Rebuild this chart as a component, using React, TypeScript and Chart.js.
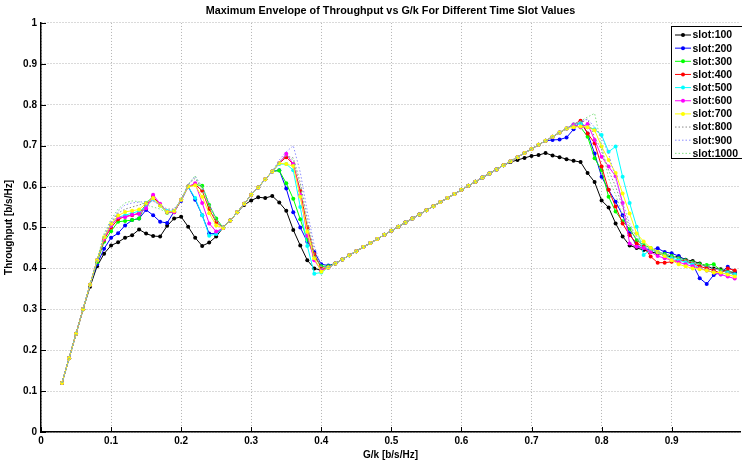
import React, { useEffect, useRef } from "react";
import { Chart, registerables } from "chart.js";

Chart.register(...registerables);

const gk = [
  0.03, 0.04, 0.05, 0.06, 0.07, 0.08, 0.09,
  0.10, 0.11, 0.12, 0.13, 0.14, 0.15, 0.16, 0.17, 0.18, 0.19,
  0.20, 0.21, 0.22, 0.23, 0.24, 0.25, 0.26, 0.27, 0.28, 0.29,
  0.30, 0.31, 0.32, 0.33, 0.34, 0.35, 0.36, 0.37, 0.38, 0.39,
  0.40, 0.41, 0.42, 0.43, 0.44, 0.45, 0.46, 0.47, 0.48, 0.49,
  0.50, 0.51, 0.52, 0.53, 0.54, 0.55, 0.56, 0.57, 0.58, 0.59,
  0.60, 0.61, 0.62, 0.63, 0.64, 0.65, 0.66, 0.67, 0.68, 0.69,
  0.70, 0.71, 0.72, 0.73, 0.74, 0.75, 0.76, 0.77, 0.78, 0.79,
  0.80, 0.81, 0.82, 0.83, 0.84, 0.85, 0.86, 0.87, 0.88, 0.89,
  0.90, 0.91, 0.92, 0.93, 0.94, 0.95, 0.96, 0.97, 0.98, 0.99,
];

const slot100 = [
  0.12, 0.18, 0.24, 0.30, 0.355, 0.405, 0.436,
  0.456, 0.464, 0.475, 0.481, 0.495, 0.485, 0.479, 0.478, 0.504, 0.522,
  0.526, 0.502, 0.475, 0.455, 0.463, 0.478, 0.500, 0.517, 0.537, 0.555,
  0.566, 0.574, 0.572, 0.577, 0.561, 0.541, 0.494, 0.456, 0.420, 0.400,
  0.395, 0.402, 0.412, 0.422, 0.432, 0.442, 0.452, 0.462, 0.472, 0.482,
  0.492, 0.502, 0.512, 0.522, 0.532, 0.542, 0.552, 0.562, 0.572, 0.582,
  0.592, 0.602, 0.612, 0.622, 0.632, 0.642, 0.652, 0.660, 0.665, 0.670,
  0.675, 0.677, 0.682, 0.676, 0.672, 0.667, 0.663, 0.660, 0.633, 0.611,
  0.566, 0.549, 0.510, 0.478, 0.456, 0.450, 0.445, 0.440, 0.437, 0.432,
  0.428, 0.429, 0.421, 0.418, 0.412, 0.405, 0.400, 0.398, 0.392, 0.390,
];

const slot200 = [
  0.12, 0.18, 0.24, 0.30, 0.36, 0.41, 0.448,
  0.475, 0.486, 0.505, 0.518, 0.522, 0.543, 0.530, 0.514, 0.511, 0.539,
  0.565, 0.600, 0.568, 0.530, 0.485, 0.485, 0.499, 0.517, 0.537, 0.558,
  0.580, 0.598, 0.618, 0.637, 0.640, 0.595, 0.537, 0.500, 0.465, 0.440,
  0.410, 0.407, 0.412, 0.422, 0.432, 0.442, 0.452, 0.462, 0.472, 0.482,
  0.492, 0.502, 0.512, 0.522, 0.532, 0.542, 0.552, 0.562, 0.572, 0.582,
  0.592, 0.602, 0.612, 0.622, 0.632, 0.642, 0.652, 0.662, 0.672, 0.682,
  0.692, 0.702, 0.712, 0.714, 0.715, 0.720, 0.740, 0.759, 0.730, 0.681,
  0.624, 0.592, 0.563, 0.530, 0.486, 0.455, 0.449, 0.445, 0.449, 0.440,
  0.437, 0.430, 0.420, 0.410, 0.376, 0.362, 0.384, 0.390, 0.404, 0.392,
];

const slot300 = [
  0.12, 0.18, 0.24, 0.30, 0.36, 0.415, 0.465,
  0.491, 0.514, 0.516, 0.518, 0.522, 0.560, 0.575, 0.554, 0.536, 0.537,
  0.568, 0.600, 0.605, 0.602, 0.555, 0.522, 0.499, 0.517, 0.537, 0.558,
  0.580, 0.598, 0.618, 0.637, 0.639, 0.608, 0.570, 0.520, 0.470, 0.430,
  0.405, 0.405, 0.412, 0.422, 0.432, 0.442, 0.452, 0.462, 0.472, 0.482,
  0.492, 0.502, 0.512, 0.522, 0.532, 0.542, 0.552, 0.562, 0.572, 0.582,
  0.592, 0.602, 0.612, 0.622, 0.632, 0.642, 0.652, 0.662, 0.672, 0.682,
  0.692, 0.702, 0.712, 0.722, 0.732, 0.742, 0.750, 0.745, 0.722, 0.669,
  0.640, 0.575, 0.539, 0.515, 0.497, 0.469, 0.457, 0.450, 0.440, 0.435,
  0.430, 0.425, 0.420, 0.415, 0.410, 0.408, 0.410, 0.395, 0.390, 0.385,
];

const slot400 = [
  0.12, 0.18, 0.24, 0.30, 0.36, 0.42, 0.47,
  0.500, 0.520, 0.527, 0.530, 0.535, 0.555, 0.575, 0.555, 0.538, 0.538,
  0.568, 0.600, 0.605, 0.590, 0.545, 0.513, 0.499, 0.517, 0.537, 0.558,
  0.580, 0.598, 0.618, 0.637, 0.657, 0.672, 0.655, 0.590, 0.500, 0.435,
  0.400, 0.402, 0.412, 0.422, 0.432, 0.442, 0.452, 0.462, 0.472, 0.482,
  0.492, 0.502, 0.512, 0.522, 0.532, 0.542, 0.552, 0.562, 0.572, 0.582,
  0.592, 0.602, 0.612, 0.622, 0.632, 0.642, 0.652, 0.662, 0.672, 0.682,
  0.692, 0.702, 0.712, 0.722, 0.732, 0.742, 0.752, 0.761, 0.730, 0.706,
  0.649, 0.592, 0.551, 0.510, 0.481, 0.461, 0.453, 0.429, 0.414, 0.414,
  0.416, 0.420, 0.418, 0.412, 0.405, 0.400, 0.395, 0.388, 0.400, 0.395,
];

const slot500 = [
  0.12, 0.18, 0.24, 0.30, 0.36, 0.42, 0.475,
  0.505, 0.525, 0.530, 0.535, 0.540, 0.550, 0.570, 0.555, 0.540, 0.540,
  0.568, 0.600, 0.572, 0.530, 0.480, 0.484, 0.499, 0.517, 0.537, 0.558,
  0.580, 0.598, 0.618, 0.637, 0.655, 0.655, 0.640, 0.550, 0.455, 0.387,
  0.390, 0.402, 0.412, 0.422, 0.432, 0.442, 0.452, 0.462, 0.472, 0.482,
  0.492, 0.502, 0.512, 0.522, 0.532, 0.542, 0.552, 0.562, 0.572, 0.582,
  0.592, 0.602, 0.612, 0.622, 0.632, 0.642, 0.652, 0.662, 0.672, 0.682,
  0.692, 0.702, 0.712, 0.722, 0.732, 0.742, 0.752, 0.755, 0.745, 0.740,
  0.726, 0.685, 0.698, 0.624, 0.560, 0.502, 0.433, 0.445, 0.440, 0.430,
  0.425, 0.420, 0.415, 0.410, 0.400, 0.395, 0.390, 0.385, 0.390, 0.385,
];

const slot600 = [
  0.12, 0.18, 0.24, 0.30, 0.36, 0.42, 0.472,
  0.505, 0.525, 0.525, 0.531, 0.533, 0.547, 0.580, 0.558, 0.537, 0.537,
  0.568, 0.600, 0.608, 0.560, 0.510, 0.490, 0.499, 0.517, 0.537, 0.558,
  0.580, 0.598, 0.618, 0.637, 0.657, 0.680, 0.655, 0.580, 0.480, 0.420,
  0.395, 0.402, 0.412, 0.422, 0.432, 0.442, 0.452, 0.462, 0.472, 0.482,
  0.492, 0.502, 0.512, 0.522, 0.532, 0.542, 0.552, 0.562, 0.572, 0.582,
  0.592, 0.602, 0.612, 0.622, 0.632, 0.642, 0.652, 0.662, 0.672, 0.682,
  0.692, 0.702, 0.712, 0.722, 0.732, 0.742, 0.751, 0.745, 0.753, 0.714,
  0.673, 0.649, 0.625, 0.560, 0.461, 0.453, 0.450, 0.440, 0.430, 0.425,
  0.420, 0.415, 0.410, 0.405, 0.400, 0.395, 0.390, 0.385, 0.380, 0.375,
];

const slot700 = [
  0.12, 0.18, 0.24, 0.30, 0.36, 0.42, 0.476,
  0.509, 0.529, 0.538, 0.541, 0.544, 0.559, 0.572, 0.554, 0.538, 0.540,
  0.568, 0.600, 0.603, 0.575, 0.535, 0.505, 0.499, 0.517, 0.537, 0.558,
  0.580, 0.598, 0.618, 0.637, 0.657, 0.655, 0.650, 0.575, 0.490, 0.425,
  0.392, 0.402, 0.412, 0.422, 0.432, 0.442, 0.452, 0.462, 0.472, 0.482,
  0.492, 0.502, 0.512, 0.522, 0.532, 0.542, 0.552, 0.562, 0.572, 0.582,
  0.592, 0.602, 0.612, 0.622, 0.632, 0.642, 0.652, 0.662, 0.672, 0.682,
  0.692, 0.702, 0.712, 0.722, 0.732, 0.742, 0.745, 0.747, 0.745, 0.738,
  0.698, 0.665, 0.633, 0.583, 0.534, 0.485, 0.466, 0.450, 0.440, 0.430,
  0.420, 0.410, 0.405, 0.400, 0.398, 0.395, 0.390, 0.390, 0.385, 0.380,
];

const slot800 = [
  0.12, 0.18, 0.24, 0.30, 0.36, 0.42, 0.48,
  0.510, 0.535, 0.545, 0.550, 0.555, 0.560, 0.565, 0.555, 0.545, 0.545,
  0.568, 0.605, 0.620, 0.595, 0.555, 0.515, 0.499, 0.517, 0.537, 0.558,
  0.580, 0.598, 0.618, 0.637, 0.660, 0.675, 0.670, 0.610, 0.520, 0.440,
  0.400, 0.402, 0.412, 0.422, 0.432, 0.442, 0.452, 0.462, 0.472, 0.482,
  0.492, 0.502, 0.512, 0.522, 0.532, 0.542, 0.552, 0.562, 0.572, 0.582,
  0.592, 0.602, 0.612, 0.622, 0.632, 0.642, 0.652, 0.662, 0.672, 0.682,
  0.692, 0.702, 0.712, 0.722, 0.732, 0.742, 0.752, 0.755, 0.765, 0.720,
  0.690, 0.640, 0.600, 0.550, 0.500, 0.470, 0.455, 0.445, 0.440, 0.435,
  0.430, 0.425, 0.420, 0.415, 0.410, 0.405, 0.400, 0.395, 0.390, 0.385,
];

const slot900 = [
  0.12, 0.18, 0.24, 0.30, 0.36, 0.42, 0.48,
  0.515, 0.540, 0.555, 0.560, 0.562, 0.564, 0.565, 0.555, 0.540, 0.545,
  0.568, 0.605, 0.625, 0.600, 0.560, 0.520, 0.499, 0.517, 0.537, 0.558,
  0.580, 0.598, 0.618, 0.637, 0.665, 0.685, 0.700, 0.635, 0.540, 0.455,
  0.405, 0.402, 0.412, 0.422, 0.432, 0.442, 0.452, 0.462, 0.472, 0.482,
  0.492, 0.502, 0.512, 0.522, 0.532, 0.542, 0.552, 0.562, 0.572, 0.582,
  0.592, 0.602, 0.612, 0.622, 0.632, 0.642, 0.652, 0.662, 0.672, 0.682,
  0.692, 0.702, 0.712, 0.722, 0.732, 0.742, 0.752, 0.760, 0.765, 0.745,
  0.720, 0.680, 0.620, 0.560, 0.510, 0.475, 0.455, 0.445, 0.440, 0.435,
  0.430, 0.425, 0.420, 0.415, 0.410, 0.405, 0.400, 0.395, 0.390, 0.385,
];

const slot1000 = [
  0.12, 0.18, 0.24, 0.30, 0.36, 0.42, 0.485,
  0.520, 0.545, 0.560, 0.565, 0.563, 0.555, 0.550, 0.545, 0.535, 0.540,
  0.568, 0.605, 0.627, 0.590, 0.550, 0.515, 0.499, 0.517, 0.537, 0.558,
  0.580, 0.598, 0.618, 0.637, 0.660, 0.675, 0.665, 0.600, 0.510, 0.430,
  0.400, 0.402, 0.412, 0.422, 0.432, 0.442, 0.452, 0.462, 0.472, 0.482,
  0.492, 0.502, 0.512, 0.522, 0.532, 0.542, 0.552, 0.562, 0.572, 0.582,
  0.592, 0.602, 0.612, 0.622, 0.632, 0.642, 0.652, 0.662, 0.672, 0.682,
  0.692, 0.702, 0.712, 0.722, 0.732, 0.742, 0.752, 0.760, 0.770, 0.779,
  0.700, 0.620, 0.580, 0.530, 0.500, 0.480, 0.460, 0.445, 0.440, 0.435,
  0.430, 0.425, 0.420, 0.415, 0.410, 0.408, 0.405, 0.400, 0.395, 0.390,
];

const seriesLabels = [
  "slot:100", "slot:200", "slot:300", "slot:400", "slot:500",
  "slot:600", "slot:700", "slot:800", "slot:900", "slot:1000",
];
const seriesValues = [
  slot100, slot200, slot300, slot400, slot500,
  slot600, slot700, slot800, slot900, slot1000,
];
const seriesColors = [
  "#000000", "#0000ff", "#00ff00", "#ff0000", "#00ffff",
  "#ff00ff", "#ffff00", "#8a8a8a", "#8c8cff", "#80e080",
];
const seriesDotted = [false, false, false, false, false, false, false, true, true, true];

const xTicks = [0, 0.1, 0.2, 0.3, 0.4, 0.5, 0.6, 0.7, 0.8, 0.9];
const yTicks = [0, 0.1, 0.2, 0.3, 0.4, 0.5, 0.6, 0.7, 0.8, 0.9, 1];

const FONT = '"Liberation Sans", Arial, Helvetica, sans-serif';

const inwardTicks = {
  id: "inwardTicks",
  afterDraw(chart: any) {
    const ctx = chart.ctx;
    const xs = chart.scales.x;
    const ys = chart.scales.y;
    const area = chart.chartArea;
    ctx.save();
    ctx.strokeStyle = "#000";
    ctx.lineWidth = 1;
    ctx.beginPath();
    xTicks.forEach((v) => {
      const px = Math.round(xs.getPixelForValue(v)) + 0.5;
      ctx.moveTo(px, area.bottom);
      ctx.lineTo(px, area.bottom - 5);
    });
    yTicks.forEach((v) => {
      const py = Math.round(ys.getPixelForValue(v)) + 0.5;
      ctx.moveTo(area.left, py);
      ctx.lineTo(area.left + 5, py);
    });
    ctx.stroke();
    ctx.restore();
  },
};

const boxLegend = {
  id: "boxLegend",
  afterDraw(chart: any) {
    const ctx = chart.ctx;
    const x0 = 671.5;
    const y0 = 26.5;
    const w = 80;
    const h = 132;
    ctx.save();
    ctx.fillStyle = "#ffffff";
    ctx.fillRect(x0, y0, w, h);
    ctx.strokeStyle = "#000000";
    ctx.lineWidth = 1;
    ctx.setLineDash([]);
    ctx.strokeRect(x0, y0, w, h);
    chart.data.datasets.forEach((ds: any, i: number) => {
      const y = 35 + i * 13.15;
      ctx.strokeStyle = ds.borderColor;
      ctx.lineWidth = 1;
      ctx.setLineDash(ds.borderDash || []);
      ctx.beginPath();
      ctx.moveTo(675, y);
      ctx.lineTo(691, y);
      ctx.stroke();
      ctx.setLineDash([]);
      if (ds.pointRadius > 0) {
        ctx.fillStyle = ds.borderColor;
        ctx.beginPath();
        ctx.arc(683, y, 2, 0, Math.PI * 2);
        ctx.fill();
      }
      ctx.fillStyle = "#000000";
      ctx.font = `bold 10.5px ${FONT}`;
      ctx.textBaseline = "middle";
      ctx.textAlign = "left";
      ctx.fillText(ds.label, 692.5, y + 0.5);
    });
    ctx.restore();
  },
};

export default function App() {
  const canvasRef = useRef<HTMLCanvasElement | null>(null);

  useEffect(() => {
    const canvas = canvasRef.current;
    if (!canvas) return;
    const datasets = seriesValues.map((vals, i) => ({
      label: seriesLabels[i],
      data: vals.map((v, j) => ({ x: gk[j], y: v })),
      borderColor: seriesColors[i],
      backgroundColor: seriesColors[i],
      borderWidth: 1,
      borderDash: seriesDotted[i] ? [1.5, 2] : [],
      pointRadius: seriesDotted[i] ? 0 : 2,
      pointBorderWidth: 0,
      pointBackgroundColor: seriesColors[i],
      pointHoverRadius: 0,
      tension: 0,
      fill: false,
      order: 10 - i,
    }));

    const chart = new Chart(canvas, {
      type: "line",
      data: { datasets },
      plugins: [inwardTicks, boxLegend],
      options: {
        animation: false,
        responsive: false,
        devicePixelRatio: 1,
        layout: { padding: { left: 0, right: 0, top: 0, bottom: 0 } },
        plugins: {
          legend: { display: false },
          tooltip: { enabled: false },
          title: {
            display: true,
            fullSize: false,
            text: "Maximum Envelope of Throughput vs G/k For Different Time Slot Values",
            color: "#000",
            font: { family: FONT, size: 10.8, weight: "bold" },
            padding: { top: 5, bottom: 5 },
          },
        },
        scales: {
          x: {
            type: "linear",
            min: 0,
            max: 0.9975,
            afterBuildTicks: (scale: any) => {
              scale.ticks = xTicks.map((v) => ({ value: v }));
            },
            afterFit: (scale: any) => {
              scale.height = 35;
            },
            ticks: {
              color: "#000",
              padding: 3,
              font: { family: FONT, size: 10, weight: "bold" },
              callback: (v: any) => String(Math.round(Number(v) * 10) / 10),
              maxRotation: 0,
              autoSkip: false,
            },
            grid: { color: "#b5b5b5", lineWidth: 1, drawTicks: false },
            border: { display: true, color: "#000", width: 1.5, dash: [1, 2] },
            title: {
              display: true,
              text: "G/k [b/s/Hz]",
              color: "#000",
              font: { family: FONT, size: 10, weight: "bold" },
              padding: { top: 0, bottom: 6 },
            },
          },
          y: {
            type: "linear",
            min: 0,
            max: 1,
            afterBuildTicks: (scale: any) => {
              scale.ticks = yTicks.map((v) => ({ value: v }));
            },
            afterFit: (scale: any) => {
              scale.width = 41;
            },
            ticks: {
              color: "#000",
              padding: 4,
              font: { family: FONT, size: 10, weight: "bold" },
              callback: (v: any) => String(Math.round(Number(v) * 10) / 10),
              autoSkip: false,
            },
            grid: { color: "#b5b5b5", lineWidth: 1, drawTicks: false },
            border: { display: true, color: "#000", width: 1.5, dash: [1, 2] },
            title: {
              display: true,
              text: "Throughput [b/s/Hz]",
              color: "#000",
              font: { family: FONT, size: 10, weight: "bold" },
              padding: { top: 3, bottom: 0 },
            },
          },
        },
      },
    });
    return () => chart.destroy();
  }, []);

  return (
    <div style={{ position: "fixed", left: 0, top: 0, width: 742, height: 467, background: "#fff" }}>
      <canvas ref={canvasRef} width={742} height={467} style={{ width: 742, height: 467, display: "block" }} />
    </div>
  );
}
